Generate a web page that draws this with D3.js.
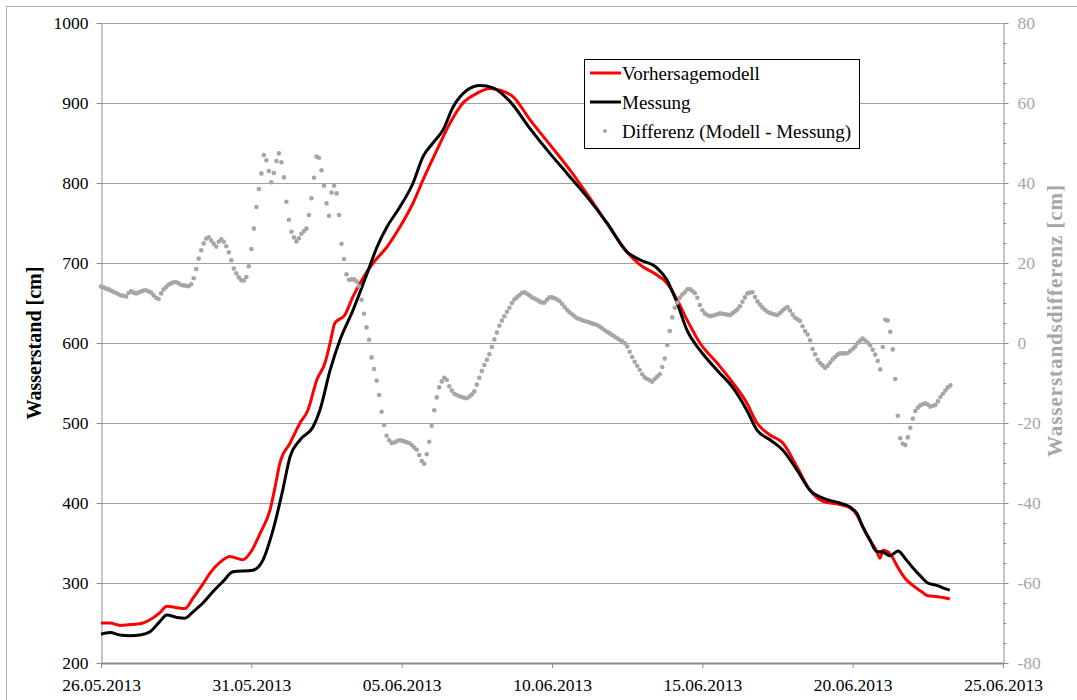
<!DOCTYPE html>
<html><head><meta charset="utf-8">
<script src="https://cdn.jsdelivr.net/npm/d3@7"></script>
<style>
body{margin:0;background:#fff;}
svg{font-family:"Liberation Serif","Times New Roman",serif;display:block;}
</style></head><body>
<svg id="chart" width="1077" height="700"></svg>
<script>
// ---------------- data ----------------
const startDate = "2013-05-26";
const endDate = "2013-06-25";
const xTickDates = ["2013-05-26","2013-05-31","2013-06-05","2013-06-10","2013-06-15","2013-06-20","2013-06-25"];
const leftTicks = [200,300,400,500,600,700,800,900,1000];
const rightTicks = [-80,-60,-40,-20,0,20,40,60,80];
const rightMinorTicks = [-75,-70,-65,-55,-50,-45,-35,-30,-25,-15,-10,-5,5,10,15,25,30,35,45,50,55,65,70,75];
const seriesNames = ["Vorhersagemodell","Messung","Differenz (Modell - Messung)"];
const leftTitle = "Wasserstand [cm]";
const rightTitle = "Wasserstandsdifferenz [cm]";

// Vorhersagemodell (days after 26.05.2013 00:00, cm)
const modelDays = [0,0.30,0.63,0.96,1.30,1.63,1.96,2.19,2.53,2.79,3.06,3.36,3.62,3.96,4.29,4.72,5.02,5.29,5.62,5.79,5.95,6.29,6.62,6.88,7.18,7.45,7.62,7.78,8.11,8.38,8.71,9.05,9.51,9.94,10.38,10.71,11.17,11.61,12.04,12.50,12.94,13.27,13.70,14.27,14.93,15.60,16.26,16.93,17.49,17.92,18.49,18.82,19.16,19.49,19.92,20.49,21.02,21.48,21.82,22.25,22.68,23.15,23.58,24.01,24.57,24.91,25.14,25.34,25.57,25.81,25.91,26.01,26.17,26.34,26.51,26.74,27.00,27.30,27.50,27.80,28.00,28.23];
const modelValues = [250,250,247,248,249,254,263,271,269,268,281,297,312,326,333,329,341,362,391,420,450,475,500,516,554,575,600,625,635,658,681,700,720,745,775,804,841,875,900,912,918,916,908,879,848,816,781,744,714,698,685,675,654,629,600,575,550,525,500,485,475,445,416,402,398,394,385,370,354,339,331,341,339,331,319,306,297,289,284,283,282,280];

// Messung (days after 26.05.2013 00:00, cm)
const messDays = [0,0.30,0.63,0.96,1.30,1.63,1.96,2.19,2.53,2.79,3.06,3.39,3.72,4.06,4.39,5.05,5.39,5.72,6.02,6.29,6.62,7.05,7.28,7.62,7.95,8.38,8.85,9.18,9.51,9.94,10.38,10.71,11.04,11.37,11.71,12.17,12.60,13.04,13.60,14.27,14.93,15.50,16.16,16.83,17.49,17.92,18.49,18.82,19.16,19.49,19.92,20.49,21.02,21.48,21.82,22.25,22.68,23.15,23.58,24.01,24.57,24.91,25.14,25.34,25.57,25.81,25.97,26.24,26.51,26.74,27.00,27.30,27.50,27.80,28.00,28.23];
const messValues = [236,238,235,234,235,239,252,260,257,256,264,275,289,302,314,316,329,366,412,458,479,495,516,566,604,641,687,720,745,770,800,833,850,866,895,916,922,919,902,868,837,812,783,750,714,704,694,679,650,616,591,566,544,516,491,479,466,441,416,406,400,395,387,370,354,339,339,334,340,331,319,307,300,297,294,291];

// Differenz (Modell - Messung), one value every 2 hours from 26.05.2013 00:00, cm
const diffStepHours = 2;
const diffValues = [14.1,13.9,13.6,13.4,13.1,12.8,12.5,12.2,11.9,11.8,11.6,12.5,12.9,12.6,12.4,12.6,12.9,13.1,13.2,12.9,
12.6,11.9,11.3,11.0,12.4,13.4,14.0,14.6,14.9,15.2,15.2,14.9,14.5,14.4,14.3,14.2,14.7,16.2,18.5,21.1,
23.2,24.9,26.1,26.4,25.6,24.8,24.1,25.3,25.9,25.3,24.2,22.7,20.7,18.6,17.4,16.4,15.7,15.6,16.5,19.2,
23.5,28.6,34.0,38.5,42.4,47.0,45.7,43.0,40.2,42.5,45.5,47.4,45.2,41.4,35.3,30.8,27.8,26.4,25.4,26.2,
27.3,28.0,28.6,32.0,36.2,41.3,46.6,46.3,43.2,39.3,34.9,31.8,37.6,39.3,37.4,32.0,24.8,21.0,17.2,15.8,
15.9,15.9,15.4,14.2,10.8,7.3,3.9,0.8,-3.6,-6.5,-9.4,-13.0,-17.2,-20.5,-23.2,-24.3,-25.0,-24.9,-24.6,-24.3,
-24.4,-24.6,-24.8,-25.0,-25.5,-26.1,-26.7,-28.0,-29.5,-30.2,-27.8,-24.7,-20.7,-16.8,-13.6,-11.1,-9.6,-8.7,-9.2,-10.8,
-11.9,-12.7,-13.0,-13.3,-13.5,-13.7,-13.8,-13.4,-12.9,-12.1,-10.4,-8.7,-7.0,-5.5,-4.2,-2.8,-1.0,0.9,2.6,4.3,
5.6,6.7,7.8,8.8,10.0,10.9,11.4,12.0,12.5,12.7,12.3,11.9,11.4,11.1,10.8,10.4,10.1,10.1,10.8,11.4,
11.4,11.2,10.9,10.5,9.8,9.0,8.3,7.7,7.2,6.7,6.2,6.0,5.7,5.5,5.3,5.1,4.9,4.7,4.5,4.1,
3.7,3.2,2.8,2.4,2.0,1.6,1.2,0.8,0.4,0.0,-0.9,-2.2,-3.5,-4.7,-5.7,-6.7,-7.8,-8.6,-9.0,-9.3,
-9.7,-9.0,-8.4,-7.8,-6.0,-3.9,-0.5,3.0,6.4,8.8,10.1,11.3,12.1,12.7,13.4,13.5,13.0,12.5,11.3,9.5,
8.2,7.4,7.0,6.7,6.8,7.0,7.2,7.4,7.3,7.2,7.1,7.0,7.4,7.9,8.4,9.2,10.3,11.4,12.4,12.6,
12.7,11.5,10.4,9.6,8.9,8.3,7.8,7.5,7.3,7.1,7.0,7.5,8.1,8.6,9.0,8.1,7.1,6.3,5.9,5.5,
4.2,3.0,2.1,0.7,-1.5,-2.8,-4.2,-5.0,-5.6,-6.2,-5.7,-4.9,-4.1,-3.5,-2.9,-2.6,-2.6,-2.6,-2.5,-2.0,
-1.5,-0.9,0.0,0.6,1.1,0.6,0.1,-0.6,-1.7,-2.9,-4.5,-6.6,-1.0,5.8,5.6,2.8,-1.6,-9.0,-18.2,-23.8,
-25.2,-25.5,-23.6,-21.2,-18.9,-17.0,-16.2,-15.6,-15.3,-15.1,-15.4,-15.9,-15.7,-15.5,-14.6,-13.5,-12.7,-11.9,-11.1,-10.6];

// ---------------- drawing ----------------
const svg = d3.select("#chart");
const parse = d3.utcParse("%Y-%m-%d");
const t0 = parse(startDate);
const dayToDate = d => new Date(t0.getTime() + d * 864e5);

const plot = {left: 101, right: 1003, top: 23, bottom: 663};
const x = d3.scaleUtc().domain([t0, parse(endDate)]).range([plot.left, plot.right]);
const yL = d3.scaleLinear().domain([200, 1000]).range([plot.bottom, plot.top]);
const yR = d3.scaleLinear().domain([-80, 80]).range([plot.bottom, plot.top]);

const axisGray = "#8c8c8c";
const gridGray = "#a0a0a0";
const rightGray = "#a6a6a6";
const serif = "'Liberation Serif', 'Times New Roman', serif";

// outer frame
svg.append("rect").attr("x", 6.5).attr("y", 6.5).attr("width", 1090).attr("height", 710)
  .attr("fill", "none").attr("stroke", "#b0b0b0").attr("stroke-width", 1);

// gridlines
svg.append("g").selectAll("line").data(leftTicks.filter(v => v > 200)).join("line")
  .attr("x1", plot.left).attr("x2", plot.right)
  .attr("y1", d => Math.round(yL(d)) + 0.5).attr("y2", d => Math.round(yL(d)) + 0.5)
  .attr("stroke", gridGray).attr("stroke-width", 1);

// left axis
const gL = svg.append("g").attr("transform", `translate(${plot.left + 0.5},0)`)
  .call(d3.axisLeft(yL).tickValues(leftTicks).tickFormat(d => String(d)).tickSize(5).tickPadding(8).tickSizeOuter(0));
gL.attr("font-family", serif);
gL.select(".domain").attr("stroke", axisGray);
gL.selectAll(".tick line").attr("stroke", axisGray);
gL.selectAll("text").attr("fill", "#000").style("font-size", "17.5px").style("font-family", serif);

// right axis
const gR = svg.append("g").attr("transform", `translate(${plot.right + 0.5},0)`)
  .call(d3.axisRight(yR).tickValues(rightTicks).tickFormat(d => String(d)).tickSize(5).tickPadding(9).tickSizeOuter(0));
gR.attr("font-family", serif);
gR.select(".domain").attr("stroke", axisGray);
gR.selectAll(".tick line").attr("stroke", axisGray);
gR.selectAll("text").attr("fill", rightGray).style("font-size", "17.5px").style("font-family", serif);
const gRm = svg.append("g").attr("transform", `translate(${plot.right + 0.5},0)`)
  .call(d3.axisRight(yR).tickValues(rightMinorTicks).tickFormat("").tickSize(3).tickSizeOuter(0));
gRm.select(".domain").remove();
gRm.selectAll(".tick line").attr("stroke", axisGray);

// bottom axis
const gB = svg.append("g").attr("transform", `translate(0,${plot.bottom})`)
  .call(d3.axisBottom(x).tickValues(xTickDates.map(parse)).tickFormat(d3.utcFormat("%d.%m.%Y")).tickSize(5).tickPadding(11).tickSizeOuter(0));
gB.attr("font-family", serif);
gB.select(".domain").attr("stroke", axisGray).attr("stroke-width", 2);
gB.selectAll(".tick line").attr("stroke", axisGray);
gB.selectAll("text").attr("fill", "#000").style("font-size", "17.5px").style("font-family", serif);

// axis titles
svg.append("text").attr("transform", `translate(41,${(plot.top + plot.bottom) / 2}) rotate(-90)`)
  .attr("text-anchor", "middle").style("font-size", "20px").style("font-weight", "bold")
  .attr("fill", "#000").text(leftTitle);
svg.append("text").attr("transform", `translate(1062,321) rotate(-90)`)
  .attr("text-anchor", "middle").style("font-size", "21px").style("font-weight", "bold")
  .attr("textLength", 272).attr("lengthAdjust", "spacing")
  .attr("fill", rightGray).text(rightTitle);

// lines
const lineGen = ys => d3.line().x(d => x(dayToDate(d[0]))).y(d => ys(d[1])).curve(d3.curveMonotoneX);
svg.append("path").datum(d3.zip(modelDays, modelValues))
  .attr("d", lineGen(yL)).attr("fill", "none").attr("stroke", "#ff0000").attr("stroke-width", 3).attr("stroke-linejoin", "round");
svg.append("path").datum(d3.zip(messDays, messValues))
  .attr("d", lineGen(yL)).attr("fill", "none").attr("stroke", "#000").attr("stroke-width", 3).attr("stroke-linejoin", "round");

// difference dots
svg.append("g").selectAll("circle").data(diffValues).join("circle")
  .attr("cx", (d, i) => x(new Date(t0.getTime() + i * diffStepHours * 3600e3)))
  .attr("cy", d => yR(d)).attr("r", 2.3).attr("fill", rightGray);

// legend
const lg = svg.append("g");
lg.append("rect").attr("x", 584.5).attr("y", 59.5).attr("width", 275).attr("height", 89)
  .attr("fill", "#fff").attr("stroke", "#000").attr("stroke-width", 1);
const legendRows = [
  {name: seriesNames[0], color: "#ff0000", type: "line", y: 73},
  {name: seriesNames[1], color: "#000", type: "line", y: 102},
  {name: seriesNames[2], color: rightGray, type: "dot", y: 131}
];
legendRows.forEach(r => {
  if (r.type === "line") {
    lg.append("line").attr("x1", 590).attr("x2", 621).attr("y1", r.y).attr("y2", r.y)
      .attr("stroke", r.color).attr("stroke-width", 3);
  } else {
    lg.append("circle").attr("cx", 605).attr("cy", r.y).attr("r", 2).attr("fill", r.color);
  }
  lg.append("text").attr("x", 622).attr("y", r.y + 6.5).style("font-size", "19px").attr("fill", "#000").text(r.name);
});
</script>
</body></html>
